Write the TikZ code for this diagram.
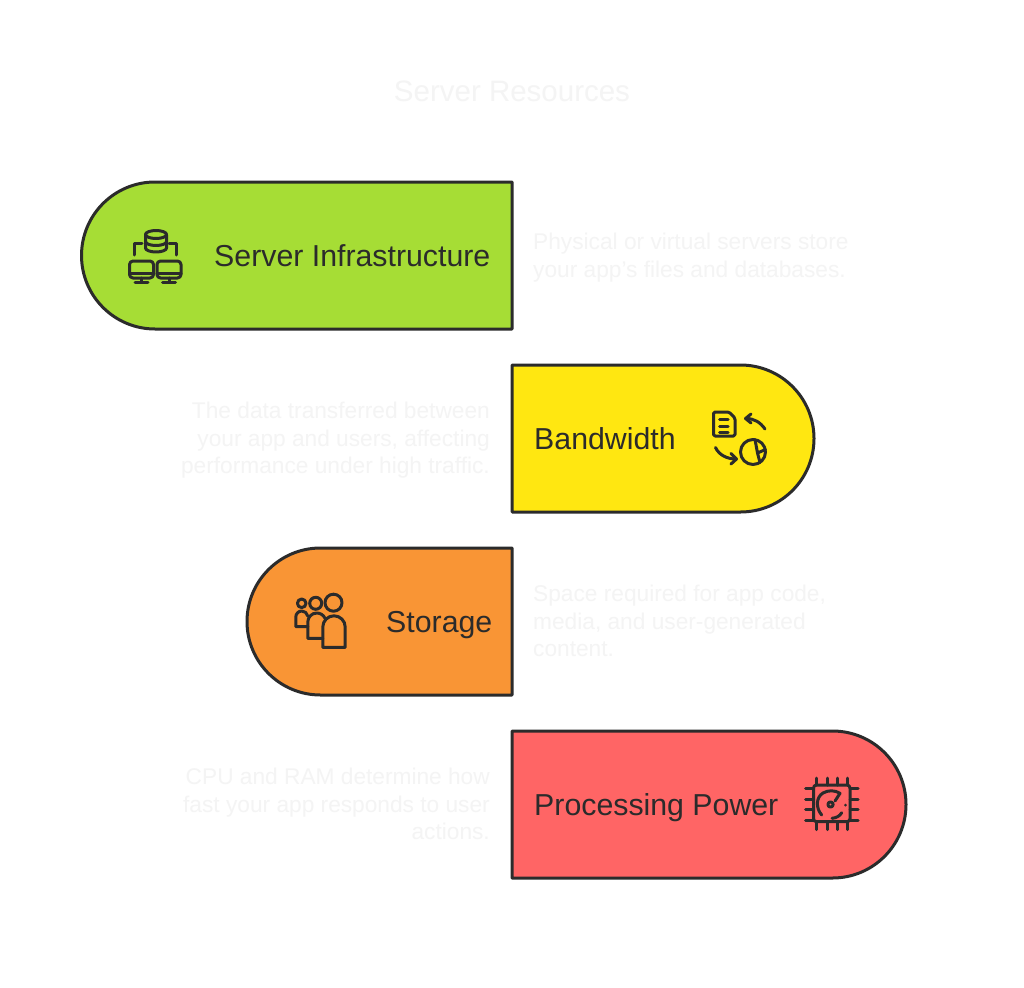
\documentclass[tikz,border=0pt]{standalone}
\usepackage{fontspec}
\setmainfont{Liberation Sans}
\definecolor{ink}{HTML}{2B2B2B}
\definecolor{faint}{HTML}{F4F4F4}
\definecolor{cgreen}{HTML}{A6DD35}
\definecolor{cyellow}{HTML}{FFE711}
\definecolor{corange}{HTML}{F99535}
\definecolor{cred}{HTML}{FF6565}
\tikzset{
  pill/.style={draw=ink,line width=3pt,line join=round},
  label/.style={text=ink,font=\fontsize{30.3}{34}\selectfont,inner sep=0pt,anchor=base west},
  descl/.style={text=faint,font=\fontsize{22.7}{27.5}\selectfont,inner sep=0pt,align=left,anchor=north west},
  descr/.style={text=faint,font=\fontsize{22.7}{27.5}\selectfont,inner sep=0pt,align=right,anchor=north east},
  icon/.style={draw=ink,line width=3pt,line cap=round,line join=round},
}
\begin{document}
\begin{tikzpicture}[x=1pt,y=-1pt]
\useasboundingbox[fill=white] (0,0) rectangle (1024,987);
\node[text=faint,font=\fontsize{29.5}{36}\selectfont,inner sep=0pt,anchor=base] (title) at (512,102) {Server Resources};
% pills
\path[pill,fill=cgreen] (512,182) -- (512,329) -- (155,329) arc[start angle=90,end angle=270,radius=73.5] -- cycle;
\path[pill,fill=cyellow] (512,365) -- (512,512) -- (740.5,512) arc[start angle=90,end angle=-90,radius=73.5] -- cycle;
\path[pill,fill=corange] (512,548) -- (512,695) -- (320.5,695) arc[start angle=90,end angle=270,radius=73.5] -- cycle;
\path[pill,fill=cred] (512,731) -- (512,878) -- (832.5,878) arc[start angle=90,end angle=-90,radius=73.5] -- cycle;
% labels
\node[label] (l1) at (214,266) {Server Infrastructure};
\node[label] (l2) at (534,449) {Bandwidth};
\node[label] (l3) at (386,632) {Storage};
\node[label] (l4) at (534,815) {Processing Power};
% descriptions
\node[descl] (d1) at (533,233) {Physical or virtual servers store\\your app’s files and databases.};
\node[descr] (d2) at (490,402) {The data transferred between\\your app and users, affecting\\performance under high traffic.};
\node[descl] (d3) at (533,585) {Space required for app code,\\media, and user-generated\\content.};
\node[descr] (d4) at (490,768) {CPU and RAM determine how\\fast your app responds to user\\actions.};
% icon: server
\draw[icon] (145.5,235) -- (145.5,248) arc[start angle=180,end angle=0,x radius=10.5,y radius=4] -- (166.5,235);
\draw[icon] (156,234.5) ellipse[x radius=10.5,y radius=4];
\draw[icon] (145.5,241.5) arc[start angle=180,end angle=0,x radius=10.5,y radius=4];
\draw[icon] (134,255) -- (134,243) -- (142,243);
\draw[icon] (169,243) -- (176,243) -- (176,255);
\draw[icon,rounded corners=3.5pt] (129.5,261) rectangle (153.5,278);
\draw[icon] (129.5,273) -- (153.5,273) (141.5,278) -- (141.5,282) (135,282) -- (148,282);
\draw[icon,rounded corners=3.5pt] (157,261) rectangle (181,278);
\draw[icon] (157,273) -- (181,273) (169,278) -- (169,282) (162.5,282) -- (175.5,282);
% icon: bandwidth
\draw[icon,rounded corners=1.5pt] (713.5,412) -- (729,412) -- (735,418) -- (735,436) -- (713.5,436) -- cycle;
\draw[icon] (719.5,419.5) -- (728,419.5) (719.5,426) -- (728,426) (719.5,432.5) -- (728,432.5);
\draw[icon] (765,429) .. controls (760,422) and (754,418.5) .. (746,418.5);
\draw[icon] (751,414) -- (745.5,418.5) -- (751,423);
\draw[icon] (715.5,447.5) .. controls (719,455) and (727,459) .. (736,459);
\draw[icon] (731,453.5) -- (736.5,459) -- (731,464);
\draw[icon] (753,452) circle[radius=12.5];
\draw[icon] (755,439.5) -- (757.5,453) -- (765.5,449.5) (757.5,453) -- (760,462.5);
% icon: people
\draw[icon] (301.7,603.3) circle[radius=4.3];
\draw[icon] (315.7,603.3) circle[radius=6];
\draw[icon] (333.5,602.7) circle[radius=8.5];
\draw[icon] (322.8,647.3) -- (322.8,627) arc[start angle=180,end angle=360,radius=11.2] -- (345.2,647.3) -- cycle;
\draw[icon] (322.8,638.3) -- (307.8,638.3) -- (307.8,622) arc[start angle=180,end angle=335,radius=9];
\draw[icon] (307.8,626.7) -- (295.8,626.7) -- (295.8,617) arc[start angle=180,end angle=350,radius=6];
% icon: processor
\draw[icon,rounded corners=3pt] (813.5,785) rectangle (850,821.7);
\draw[icon] (816.7,778) -- (816.7,785) (827,778) -- (827,785) (837.5,778) -- (837.5,785) (847.5,778) -- (847.5,785);
\draw[icon] (816.7,821.7) -- (816.7,829.5) (827,821.7) -- (827,829.5) (837.5,821.7) -- (837.5,829.5) (847.5,821.7) -- (847.5,829.5);
\draw[icon] (805.5,788.5) -- (813.5,788.5) (805.5,799) -- (813.5,799) (805.5,809.5) -- (813.5,809.5) (805.5,820) -- (813.5,820);
\draw[icon] (850,788.5) -- (858,788.5) (850,799) -- (858,799) (850,809.5) -- (858,809.5) (850,820) -- (858,820);
\draw[icon] (821.7,815) .. controls (815.5,808) and (816,797) .. (823,793) .. controls (828,790) and (835,790) .. (840,793.3) -- (835,801);
\draw[icon] (830.5,804.5) circle[radius=2.6];
\draw[icon] (845,805) -- (845,805.1);
\draw[icon] (832,818.3) .. controls (836,818) and (840,816) .. (841.7,812.7);
\end{tikzpicture}
\end{document}
